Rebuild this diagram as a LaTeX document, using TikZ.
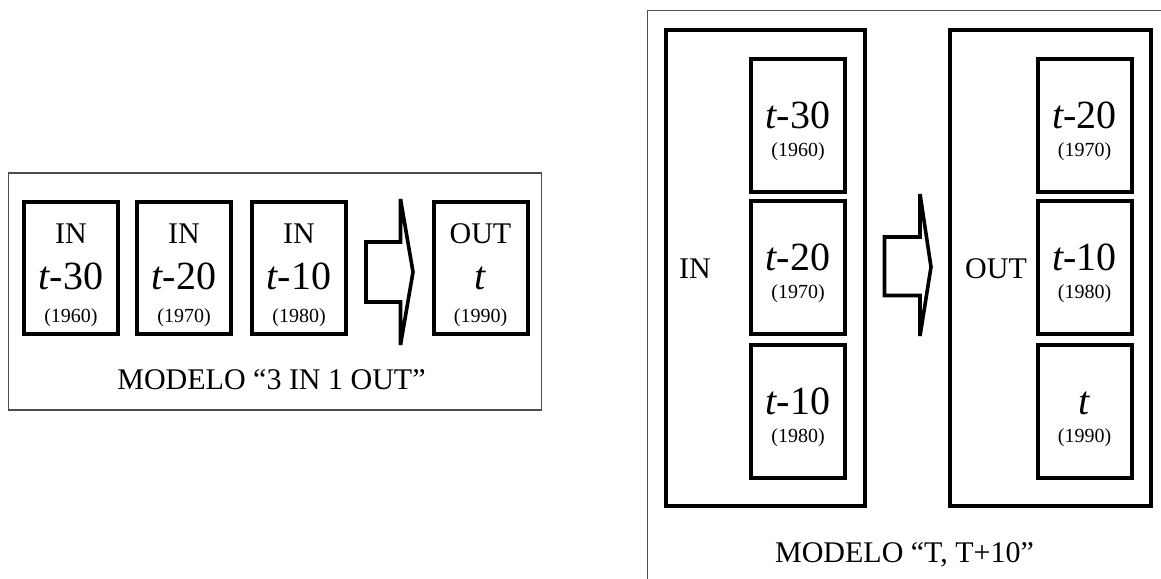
\documentclass[tikz,border=0pt]{standalone}
\usepackage{fontspec}
\setmainfont{Liberation Serif}
\begin{document}
\begin{tikzpicture}[x=0.5pt, y=-0.5pt,
  frame/.style={draw=black!70, line width=0.7pt, inner sep=0pt},
  cell/.style={draw, line width=2pt, minimum width=47pt, inner sep=0pt},
  group/.style={draw, line width=2pt, inner sep=0pt},
  bigtxt/.style={font=\fontsize{20}{20}\selectfont, anchor=base, inner sep=0pt},
  yeartxt/.style={font=\fontsize{10}{10}\selectfont, anchor=base, inner sep=0pt},
  labtxt/.style={font=\fontsize{15}{15}\selectfont, anchor=base, inner sep=0pt},
  flow/.style={draw, line width=1.8pt, fill=white}]

\useasboundingbox (0,0) rectangle (1161,578);
\clip (0,0) rectangle (1161,578);

% ---------- model "3 IN 1 OUT" ----------
\node[frame, minimum width=266.5pt, minimum height=118.5pt] (lframe) at (275,291.5) {};

\node[cell, minimum height=66pt] (a1) at (71,268) {};
\node[cell, minimum height=66pt] (a2) at (184,268) {};
\node[cell, minimum height=66pt] (a3) at (299,268) {};
\node[cell, minimum height=66pt] (a4) at (480.5,268) {};

\node[labtxt] (a1in) at (71,243.5) {IN};
\node[bigtxt] (a1t) at (71,289) {\itshape t\upshape -30};
\node[yeartxt] (a1y) at (71,322) {(1960)};

\node[labtxt] (a2in) at (184,243.5) {IN};
\node[bigtxt] (a2t) at (184,289) {\itshape t\upshape -20};
\node[yeartxt] (a2y) at (184,322) {(1970)};

\node[labtxt] (a3in) at (299,243.5) {IN};
\node[bigtxt] (a3t) at (299,289) {\itshape t\upshape -10};
\node[yeartxt] (a3y) at (299,322) {(1980)};

\node[labtxt] (a4out) at (480.5,243.5) {OUT};
\node[bigtxt] (a4t) at (480.5,289) {\itshape t};
\node[yeartxt] (a4y) at (480.5,322) {(1990)};

\draw[flow] (366,242) -- (400.5,242) -- (400.5,199) -- (413,272)
  -- (400.5,345) -- (400.5,302) -- (366,302) -- cycle;

\node[labtxt] (lcap) at (271.5,389) {MODELO “3 IN 1 OUT”};

% ---------- model "T, T+10" ----------
\node[frame, minimum width=263.75pt, minimum height=289.75pt] (rframe) at (911.25,300.25) {};

\node[group, minimum width=99.5pt, minimum height=238pt] (gin) at (765.5,268) {};
\node[group, minimum width=100.25pt, minimum height=238pt] (gout) at (1050.25,268) {};

\node[cell, minimum height=66.5pt] (b1) at (798,125.5) {};
\node[cell, minimum height=66.5pt] (b2) at (798,267.5) {};
\node[cell, minimum height=66.5pt] (b3) at (798,411.5) {};
\node[cell, minimum height=66.5pt] (c1) at (1084.5,125.5) {};
\node[cell, minimum height=66.5pt] (c2) at (1084.5,267.5) {};
\node[cell, minimum height=66.5pt] (c3) at (1084.5,411.5) {};

\node[labtxt] (ginlab) at (695,278) {IN};
\node[labtxt] (goutlab) at (996,278) {OUT};

\node[bigtxt] (b1t) at (798,128) {\itshape t\upshape -30};
\node[yeartxt] (b1y) at (798,156) {(1960)};
\node[bigtxt] (b2t) at (798,270) {\itshape t\upshape -20};
\node[yeartxt] (b2y) at (798,298) {(1970)};
\node[bigtxt] (b3t) at (798,414) {\itshape t\upshape -10};
\node[yeartxt] (b3y) at (798,442) {(1980)};

\node[bigtxt] (c1t) at (1084.5,128) {\itshape t\upshape -20};
\node[yeartxt] (c1y) at (1084.5,156) {(1970)};
\node[bigtxt] (c2t) at (1084.5,270) {\itshape t\upshape -10};
\node[yeartxt] (c2y) at (1084.5,298) {(1980)};
\node[bigtxt] (c3t) at (1084.5,414) {\itshape t};
\node[yeartxt] (c3y) at (1084.5,442) {(1990)};

\draw[flow] (884.5,237) -- (920,237) -- (920,194) -- (931,267)
  -- (920,336) -- (920,295.5) -- (884.5,295.5) -- cycle;

\node[labtxt] (rcap) at (904.5,562) {MODELO “T, T+10”};
\end{tikzpicture}
\end{document}
